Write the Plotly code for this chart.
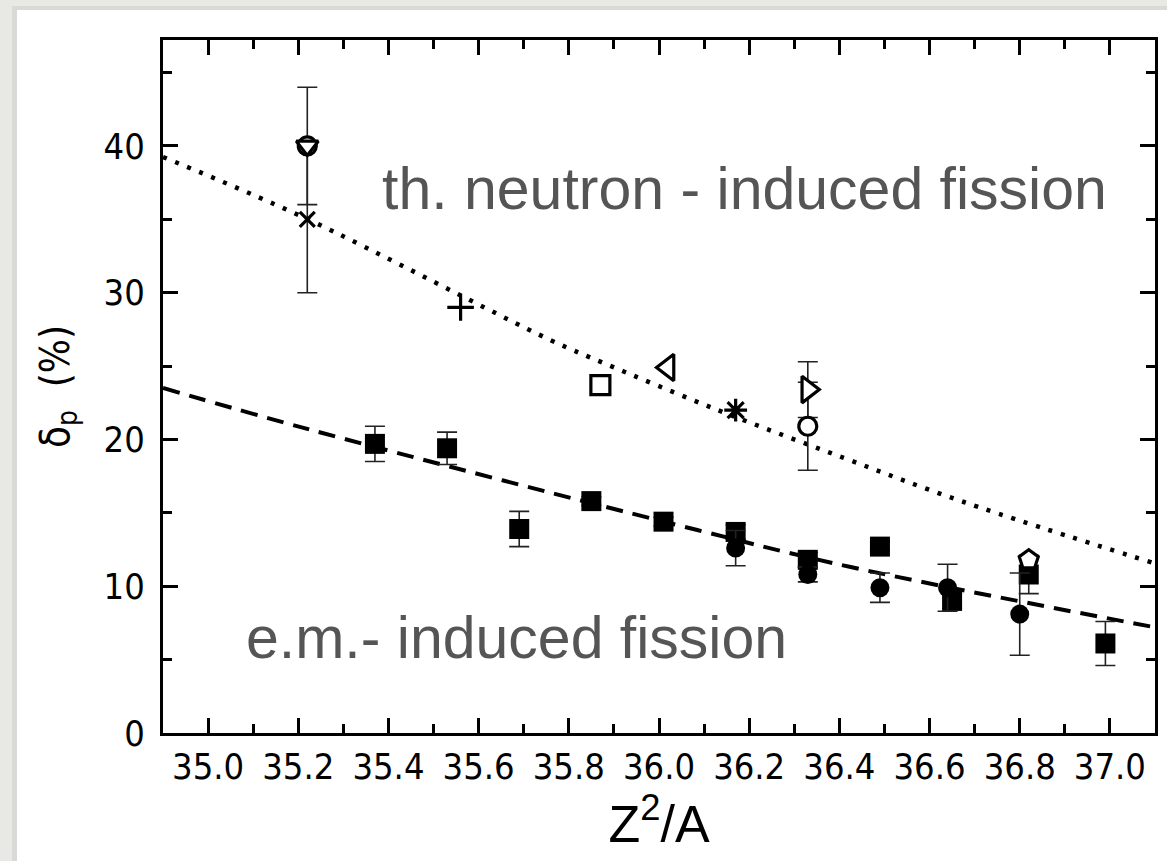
import plotly.graph_objects as go

# ---------------- data ----------------
# e.m.-induced fission: filled squares
em_sq_x = [35.37, 35.53, 35.69, 35.85, 36.01, 36.17, 36.33, 36.49, 36.65, 36.82, 36.99]
em_sq_y = [19.7, 19.4, 13.9, 15.8, 14.4, 13.7, 11.8, 12.7, 9.0, 10.8, 6.1]
em_sq_err = [1.2, 1.1, 1.2, 0.3, 0.3, 0.5, 0.5, 0.3, 0.5, 1.3, 1.5]

# e.m.-induced fission: filled circles
em_ci_x = [36.17, 36.33, 36.49, 36.64, 36.80]
em_ci_y = [12.6, 10.8, 9.9, 9.9, 8.1]
em_ci_err = [1.2, 0.5, 1.0, 1.6, 2.8]

# thermal-neutron-induced fission: open symbols
th_x = [35.22, 35.22, 35.22, 35.56, 35.87, 36.02, 36.17, 36.33, 36.33, 36.82]
th_y = [40.0, 40.0, 35.0, 29.0, 23.7, 24.9, 22.0, 23.4, 20.9, 11.8]
th_err = [4.0, 0.0, 5.0, 0.0, 0.0, 0.0, 0.0, 1.9, 3.0, 0.0]
th_symbols = ['circle', 'triangle-down', 'x-thin', 'cross-thin',
              'square', 'triangle-left', 'asterisk',
              'triangle-right', 'circle', 'pentagon']

# fitted curves
th_fit_x = [34.9, 35.215, 35.759, 35.877, 36.13, 36.41, 36.676, 37.1]
th_fit_y = [39.25, 35.09, 26.78, 25.21, 22.01, 18.74, 15.74, 11.55]
em_fit_x = [34.9, 35.22, 36.085, 36.425, 37.1]
em_fit_y = [23.51, 20.72, 13.83, 11.31, 7.2]

x_ticks = [35.0, 35.2, 35.4, 35.6, 35.8, 36.0, 36.2, 36.4, 36.6, 36.8, 37.0]
x_tick_text = ['35.0', '35.2', '35.4', '35.6', '35.8', '36.0', '36.2', '36.4', '36.6', '36.8', '37.0']
y_ticks = [0, 10, 20, 30, 40]

# ---------------- style constants ----------------
W, H = 1167, 861
ML, MR, MT, MB = 163, 12, 40, 128
PW, PH = W - ML - MR, H - MT - MB
NARROW = "Liberation Sans Narrow, DejaVu Sans Condensed, Arial Narrow, sans-serif"
SANS = "Liberation Sans, Arial, Helvetica, sans-serif"
SYMBOL_SIZE = {'circle': 18, 'square': 19, 'triangle-down': 19, 'triangle-left': 23,
               'triangle-right': 23, 'pentagon': 20, 'x-thin': 15, 'cross-thin': 19,
               'asterisk': 19}


def px_x(p):
    return (p - ML) / PW


def px_y(p):
    return (H - MB - p) / PH


fig = go.Figure()

# fit curves
fig.add_trace(go.Scatter(x=th_fit_x, y=th_fit_y, mode='lines', line_shape='spline',
                         line=dict(color='black', width=4.5, dash='4px,9px'),
                         hoverinfo='skip', showlegend=False))
fig.add_trace(go.Scatter(x=em_fit_x, y=em_fit_y, mode='lines', line_shape='spline',
                         line=dict(color='black', width=4, dash='17px,10px'),
                         hoverinfo='skip', showlegend=False))

err_style = dict(type='data', symmetric=True, color='#222222', thickness=1.6, width=10)

# error bars of the thermal-neutron points (only those that have one)
th_eb_idx = [i for i, e in enumerate(th_err) if e > 0]
fig.add_trace(go.Scatter(x=[th_x[i] for i in th_eb_idx], y=[th_y[i] for i in th_eb_idx],
                         mode='markers', marker=dict(size=1, opacity=0),
                         error_y=dict(array=[th_err[i] for i in th_eb_idx], **err_style),
                         hoverinfo='skip', showlegend=False))

fig.add_trace(go.Scatter(x=em_sq_x, y=em_sq_y, mode='markers',
                         marker=dict(symbol='square', size=20, color='black', opacity=1),
                         error_y=dict(array=em_sq_err, **err_style), showlegend=False))
fig.add_trace(go.Scatter(x=em_ci_x, y=em_ci_y, mode='markers',
                         marker=dict(symbol='circle', size=19, color='black', opacity=1),
                         error_y=dict(array=em_ci_err, **err_style), showlegend=False))

# thermal open symbols
fig.add_trace(go.Scatter(x=th_x, y=th_y, mode='markers',
                         marker=dict(symbol=th_symbols,
                                     size=[SYMBOL_SIZE[s] for s in th_symbols],
                                     color='white', opacity=1,
                                     line=dict(color='black', width=3.2)),
                         showlegend=False))

# background card
fig.add_shape(type='rect', xref='paper', yref='paper', layer='below',
              x0=px_x(12), x1=px_x(W + 20), y0=px_y(H + 20), y1=px_y(6),
              fillcolor='#d9d9d5', line_width=0)
fig.add_shape(type='rect', xref='paper', yref='paper', layer='below',
              x0=px_x(17), x1=px_x(W + 20), y0=px_y(H + 20), y1=px_y(10),
              fillcolor='white', line_width=0)

fig.add_annotation(x=36.19, y=37.1, xref='x', yref='y', text='th. neutron - induced fission',
                   showarrow=False, xanchor='center', yanchor='middle',
                   font=dict(family=SANS, size=59, color='#555555'))
fig.add_annotation(x=35.685, y=6.45, xref='x', yref='y', text='e.m.- induced fission',
                   showarrow=False, xanchor='center', yanchor='middle',
                   font=dict(family=SANS, size=59, color='#555555'))

axis_common = dict(showline=True, linecolor='black', linewidth=3, mirror='ticks',
                   ticks='inside', ticklen=15, tickwidth=3, tickcolor='black',
                   showgrid=False, zeroline=False,
                   tickfont=dict(family=NARROW, size=36, color='black'))

fig.update_xaxes(range=[34.9, 37.1], tickvals=x_ticks, ticktext=x_tick_text,
                 minor=dict(dtick=0.1, tick0=35.0, ticks='inside', ticklen=9, tickwidth=3,
                            tickcolor='black', showgrid=False),
                 ticklabelstandoff=0,
                 title=dict(text='Z<sup>2</sup>/A', font=dict(family=SANS, size=52, color='black'),
                            standoff=4),
                 **axis_common)
fig.update_yaxes(range=[0, 47.22], tickvals=y_ticks,
                 minor=dict(dtick=5, tick0=0, ticks='inside', ticklen=9, tickwidth=3,
                            tickcolor='black', showgrid=False),
                 ticklabelstandoff=8,
                 title=dict(text='δ<sub>p</sub>  (%)', font=dict(family=NARROW, size=40, color='black'),
                            standoff=22),
                 **axis_common)

fig.update_layout(width=W, height=H, margin=dict(l=ML, r=MR, t=MT, b=MB, autoexpand=False),
                  paper_bgcolor='#e8e8e5', plot_bgcolor='white', showlegend=False)

fig.write_html("out.html")
